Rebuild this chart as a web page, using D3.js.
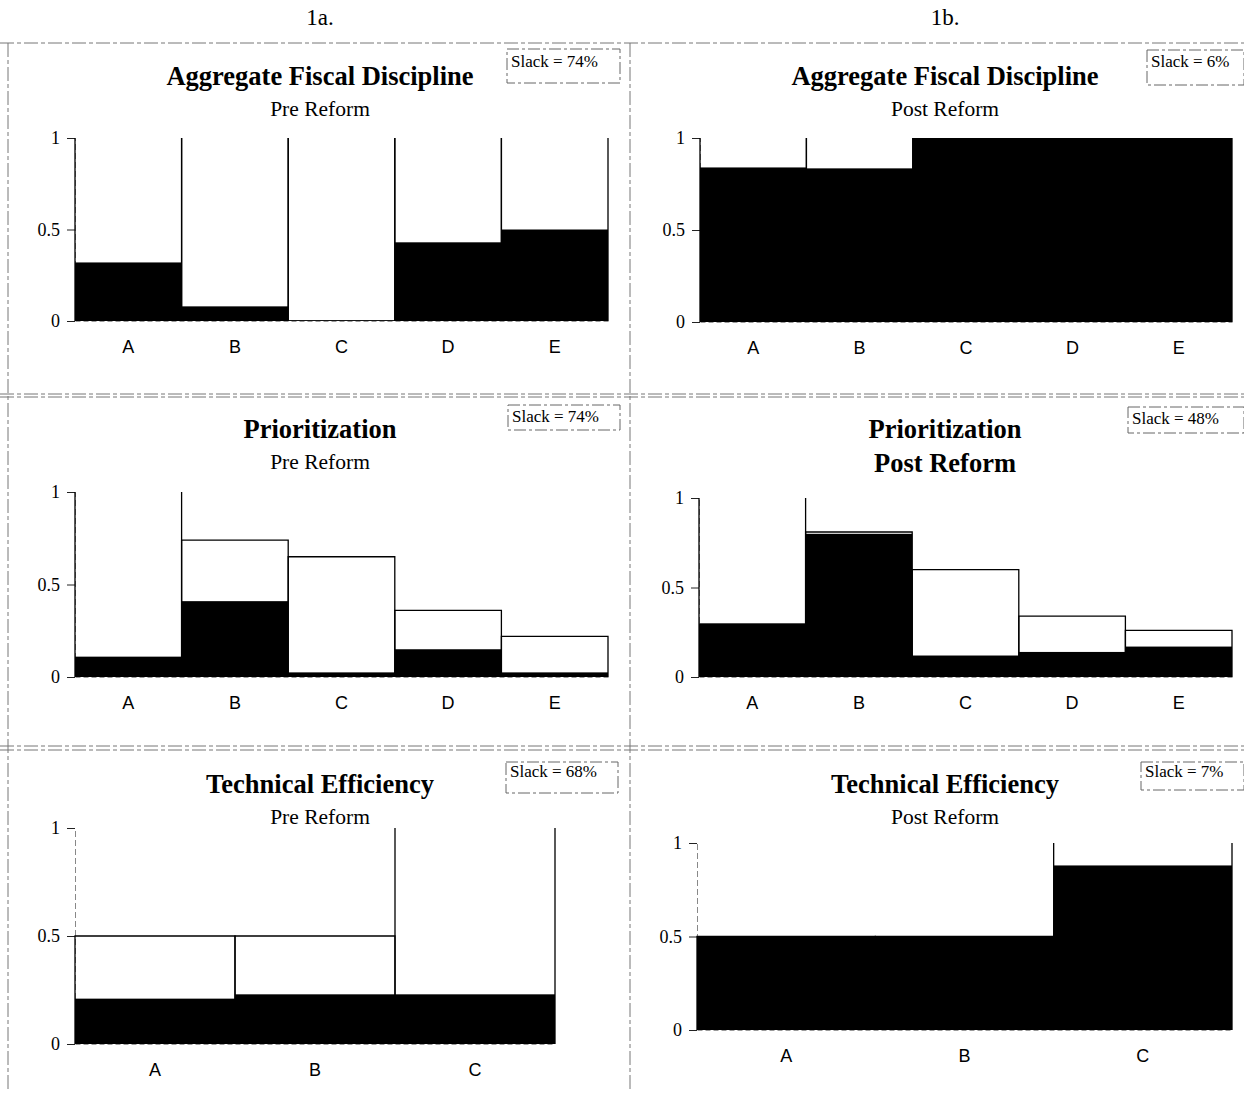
<!DOCTYPE html>
<html>
<head>
<meta charset="utf-8">
<script src="https://cdn.jsdelivr.net/npm/d3@7"></script>
<style>
body { margin: 0; background: #fff; }
svg text { font-family: "Liberation Serif", "Times New Roman", serif; fill: #000; }
.xlab text { font-family: "Liberation Sans", Arial, sans-serif; }
</style>
</head>
<body>
<svg id="fig" width="1244" height="1098"></svg>
<script>
////////////
/// DATA ///
////////////

const cats5 = ['A', 'B', 'C', 'D', 'E'];
const cats3 = ['A', 'B', 'C'];
const yTicks = [0, 0.5, 1];

// outline = upper bound of each bar, fill = achieved share (black)
const afdPreBound = [1, 1, 1, 1, 1];
const afdPreScore = [0.32, 0.08, 0.005, 0.43, 0.50];
const afdPostBound = [1, 1, 1, 1, 1];
const afdPostScore = [0.84, 0.835, 1, 1, 1];

const prioPreBound = [1, 0.74, 0.65, 0.36, 0.22];
const prioPreScore = [0.11, 0.41, 0.025, 0.15, 0.025];
const prioPostBound = [1, 0.81, 0.60, 0.34, 0.26];
const prioPostScore = [0.30, 0.80, 0.12, 0.14, 0.17];

const tePreBound = [0.5, 0.5, 1];
const tePreScore = [0.21, 0.23, 0.23];
const tePostBound = [0.5, 0.5, 1];
const tePostScore = [0.5, 0.5, 0.88];

const colHeads = ['1a.', '1b.'];
const titles = ['Aggregate Fiscal Discipline', 'Prioritization', 'Technical Efficiency'];
const subtitles = ['Pre Reform', 'Post Reform'];
const slackLabels = ['Slack = 74%', 'Slack = 6%', 'Slack = 74%', 'Slack = 48%', 'Slack = 68%', 'Slack = 7%'];

//////////////
/// LAYOUT ///
//////////////

const svg = d3.select('#fig');
const colCenter = [320, 945];

const panels = [
    {col: 0, title: titles[0], sub: subtitles[0], cats: cats5, bound: afdPreBound, score: afdPreScore, slack: slackLabels[0],
     x0: 75, x1: 608, yTop: 138, yBot: 321, titleY: 85, subY: 116, box: [507, 49, 113, 34], boxText: 67},
    {col: 1, title: titles[0], sub: subtitles[1], cats: cats5, bound: afdPostBound, score: afdPostScore, slack: slackLabels[1],
     x0: 700, x1: 1232, yTop: 138, yBot: 322, titleY: 85, subY: 116, box: [1147, 50, 97, 35], boxText: 67},
    {col: 0, title: titles[1], sub: subtitles[0], cats: cats5, bound: prioPreBound, score: prioPreScore, slack: slackLabels[2],
     x0: 75, x1: 608, yTop: 492, yBot: 677, titleY: 438, subY: 469, box: [508, 405, 112, 25], boxText: 422},
    {col: 1, title: titles[1], sub: subtitles[1], subBold: true, cats: cats5, bound: prioPostBound, score: prioPostScore, slack: slackLabels[3],
     x0: 699, x1: 1232, yTop: 498, yBot: 677, titleY: 438, subY: 472, box: [1128, 407, 116, 26], boxText: 424},
    {col: 0, title: titles[2], sub: subtitles[0], cats: cats3, bound: tePreBound, score: tePreScore, slack: slackLabels[4],
     x0: 75, x1: 555, yTop: 828, yBot: 1044, titleY: 793, subY: 824, box: [506, 762, 112, 31], boxText: 777},
    {col: 1, title: titles[2], sub: subtitles[1], cats: cats3, bound: tePostBound, score: tePostScore, slack: slackLabels[5],
     x0: 697, x1: 1232, yTop: 843, yBot: 1030, titleY: 793, subY: 824, box: [1141, 762, 103, 28], boxText: 777}
];

// column headings
svg.selectAll('.colhead').data(colHeads).enter()
    .append('text')
    .attr('class', 'colhead')
    .attr('x', (d, i) => colCenter[i])
    .attr('y', 25)
    .attr('text-anchor', 'middle')
    .style('font-size', '23px')
    .text(d => d);

// dashed frame lines between the panels (scanned look)
const frame = svg.append('g')
    .attr('stroke', '#777')
    .attr('stroke-width', 1)
    .attr('stroke-dasharray', '14,3,4,3');
[[0, 43, 1244, 43], [0, 394, 1244, 394], [0, 397, 1244, 397], [0, 746, 1244, 746], [0, 750, 1244, 750],
 [8, 43, 8, 1090], [630, 43, 630, 1090]].forEach(function(l) {
    frame.append('line').attr('x1', l[0]).attr('y1', l[1]).attr('x2', l[2]).attr('y2', l[3]);
});

//////////////
/// PANELS ///
//////////////

function drawPanel(p) {
    const g = svg.append('g');
    const cx = colCenter[p.col];

    const xScale = d3.scaleBand().domain(p.cats).range([p.x0, p.x1]).padding(0);
    const yScale = d3.scaleLinear().domain([0, 1]).range([p.yBot, p.yTop]);
    const rows = p.cats.map((c, i) => ({cat: c, bound: p.bound[i], score: p.score[i]}));

    // titles
    g.append('text')
        .attr('x', cx).attr('y', p.titleY)
        .attr('text-anchor', 'middle')
        .style('font-size', '26.5px').style('font-weight', 'bold')
        .text(p.title);
    g.append('text')
        .attr('x', cx).attr('y', p.subY)
        .attr('text-anchor', 'middle')
        .style('font-size', p.subBold ? '26.5px' : '21.5px')
        .style('font-weight', p.subBold ? 'bold' : 'normal')
        .text(p.sub);

    // slack box
    g.append('rect')
        .attr('x', p.box[0]).attr('y', p.box[1])
        .attr('width', p.box[2]).attr('height', p.box[3])
        .attr('fill', 'none').attr('stroke', '#666')
        .attr('stroke-dasharray', '12,3,3,3');
    g.append('text')
        .attr('x', p.box[0] + 4).attr('y', p.boxText)
        .style('font-size', '17px')
        .text(p.slack);

    // y axis
    const yAxis = g.append('g')
        .attr('transform', 'translate(' + p.x0 + ',0)')
        .call(d3.axisLeft(yScale).tickValues(yTicks).tickSize(8).tickPadding(7).tickFormat(d => d));
    yAxis.select('.domain').attr('stroke', '#888').attr('stroke-dasharray', '6,3');
    yAxis.selectAll('.tick line').attr('stroke', '#222');
    yAxis.selectAll('.tick text').style('font-size', '18px')
        .style('font-family', '"Liberation Serif", serif');

    // x axis
    const xAxis = g.append('g')
        .attr('class', 'xlab')
        .attr('transform', 'translate(0,' + p.yBot + ')')
        .call(d3.axisBottom(xScale).tickSize(0).tickPadding(19));
    xAxis.select('.domain').attr('stroke', '#999').attr('stroke-dasharray', '5,3');
    xAxis.selectAll('.tick text').style('font-size', '18px')
        .style('font-family', '"Liberation Sans", Arial, sans-serif');

    // filled part
    g.selectAll('.fill').data(rows).enter()
        .append('rect')
        .attr('class', 'fill')
        .attr('x', d => xScale(d.cat))
        .attr('y', d => yScale(d.score))
        .attr('width', xScale.bandwidth())
        .attr('height', d => p.yBot - yScale(d.score))
        .attr('fill', '#000');

    // bar outlines; no top edge when the bar reaches 1
    g.selectAll('.outline').data(rows).enter()
        .append('path')
        .attr('class', 'outline')
        .attr('fill', 'none').attr('stroke', '#000').attr('stroke-width', 1.3)
        .attr('d', function(d) {
            const xa = xScale(d.cat), xb = xa + xScale.bandwidth();
            const yt = yScale(d.bound);
            const path = d3.path();
            path.moveTo(xa, p.yBot);
            path.lineTo(xa, yt);
            if (d.bound < 1) { path.lineTo(xb, yt); } else { path.moveTo(xb, yt); }
            path.lineTo(xb, p.yBot);
            return path.toString();
        });
}

panels.forEach(drawPanel);
</script>
</body>
</html>
